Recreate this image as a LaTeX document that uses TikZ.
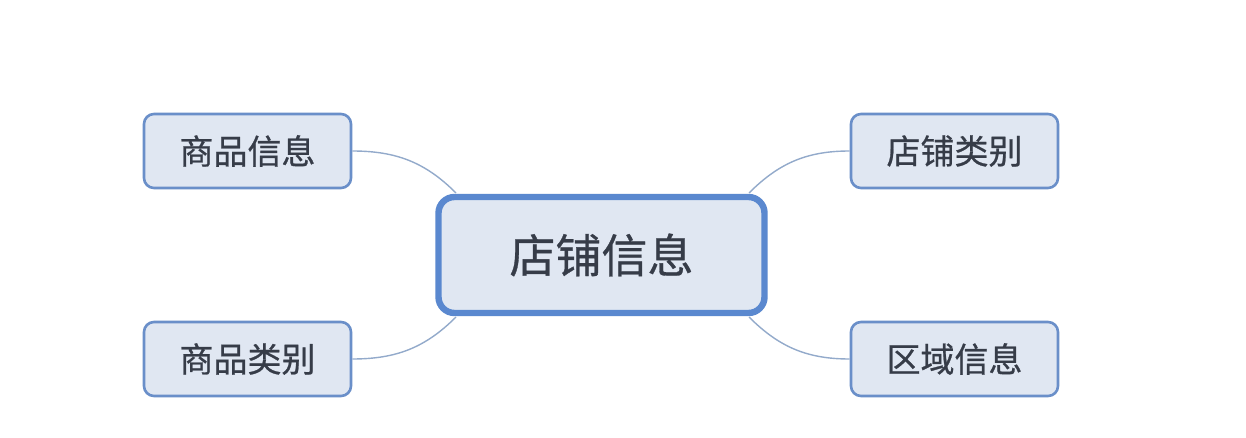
\documentclass[tikz,border=0pt]{standalone}
\usepackage{fontspec}
\newfontfamily\cjk[FakeBold=0.7]{Noto Sans CJK SC}
\definecolor{boxfill}{HTML}{E0E7F2}
\definecolor{boxline}{HTML}{6A8FC9}
\definecolor{hubline}{HTML}{5A88CF}
\definecolor{linkline}{HTML}{93AACB}
\definecolor{txt}{HTML}{363C48}
\begin{document}
\begin{tikzpicture}[x=0.5pt,y=-0.5pt,
  leaf/.style={draw=boxline, line width=1.3pt, fill=boxfill, rounded corners=5pt,
    minimum width=103.5pt, minimum height=37pt, inner sep=0pt,
    font=\cjk\fontsize{17}{17}\selectfont, text=txt},
  hub/.style={draw=hubline, line width=3.2pt, fill=boxfill, rounded corners=8pt,
    minimum width=163pt, minimum height=58pt, inner sep=0pt,
    font=\cjk\fontsize{23}{23}\selectfont, text=txt},
  link/.style={draw=linkline, line width=0.7pt}]
\useasboundingbox (0,0) rectangle (1246,438);
\fill[white] (0,0) rectangle (1246,438);
% central topic
\node[hub] (hub) at (601.5,255) {店铺信息};
% branch topics
\node[leaf] (a) at (247.5,151) {商品信息};
\node[leaf] (b) at (247.5,359) {商品类别};
\node[leaf] (c) at (954.5,151) {店铺类别};
\node[leaf] (d) at (954.5,359) {区域信息};
% curved connectors ending at the hub corners
\coordinate (hnw) at (456,193);
\coordinate (hsw) at (456,317);
\coordinate (hne) at (749,193);
\coordinate (hse) at (749,317);
\draw[link] (a.east) to[out=0,in=135] (hnw);
\draw[link] (b.east) to[out=0,in=-135] (hsw);
\draw[link] (c.west) to[out=180,in=45] (hne);
\draw[link] (d.west) to[out=180,in=-45] (hse);
\end{tikzpicture}
\end{document}
